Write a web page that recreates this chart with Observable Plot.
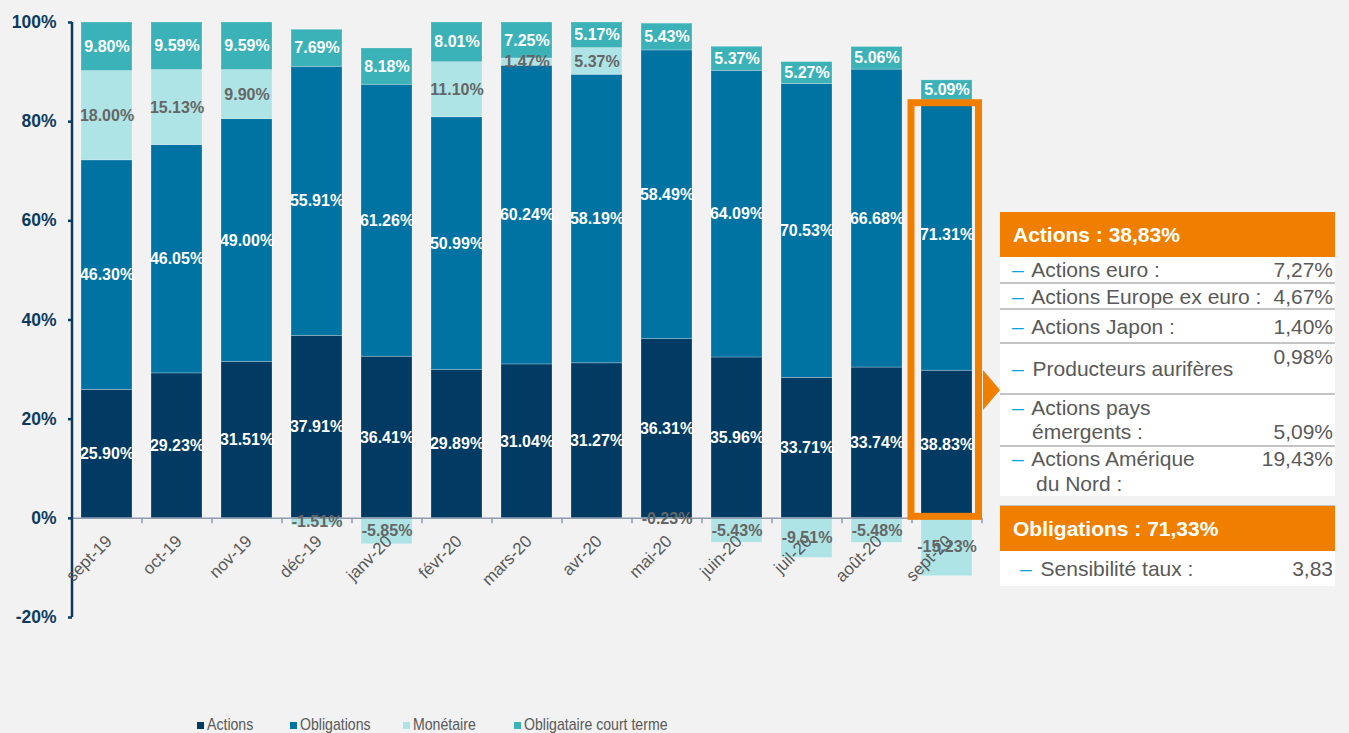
<!DOCTYPE html>
<html><head><meta charset="utf-8">
<script src="https://cdn.jsdelivr.net/npm/d3@7"></script>
<script src="https://cdn.jsdelivr.net/npm/@observablehq/plot@0.6"></script>
<style>
html,body{margin:0;padding:0;background:#f2f2f2;}
body{width:1349px;height:733px;position:relative;overflow:hidden;font-family:"Liberation Sans",Arial,sans-serif;}
#chart{position:absolute;left:0;top:0;}
#panel{position:absolute;left:1000px;top:212px;width:335px;height:380px;}
.hdr{position:absolute;left:0;width:335px;height:45px;background:#f07f00;color:#fff;font-weight:bold;font-size:21px;line-height:45px;padding-left:13px;box-sizing:border-box;}
.white{position:absolute;left:0;width:335px;background:#fff;}
.sep{position:absolute;left:0;width:335px;height:2px;background:#c4c4c4;}
.ln{position:absolute;height:24px;line-height:24px;font-size:21px;color:#595959;white-space:nowrap;}
.dash{color:#00a3e0;margin-right:3px;}
.val{position:absolute;right:2px;height:24px;line-height:24px;font-size:21px;color:#595959;text-align:right;}
#arrow{position:absolute;left:983px;top:370px;width:0;height:0;border-left:17px solid #f07f00;border-top:20px solid transparent;border-bottom:20px solid transparent;}
#legend{position:absolute;left:0;top:712px;width:1000px;height:21px;}
.lg-sq{position:absolute;top:10px;width:7px;height:7px;}
.lg-tx{position:absolute;top:1px;height:24px;line-height:24px;font-family:"Liberation Sans",Arial,sans-serif;font-size:17px;color:#595959;white-space:nowrap;transform:scaleX(0.83);transform-origin:0 50%;}
</style></head>
<body>
<div id="chart"></div>
<div id="arrow"></div>
<div id="panel"></div>
<div id="legend"></div>
<script>
// ---- data ----
const months = ["sept-19","oct-19","nov-19","déc-19","janv-20","févr-20","mars-20","avr-20","mai-20","juin-20","juil-20","août-20","sept-20"];
const seriesNames = ["Actions","Obligations","Monétaire","Obligataire court terme"];
const seriesColors = ["#013b63","#0073a2","#aee4e5","#3bb2b8"];
const actions     = [25.90,29.23,31.51,37.91,36.41,29.89,31.04,31.27,36.31,35.96,33.71,33.74,38.83];
const obligations = [46.30,46.05,49.00,55.91,61.26,50.99,60.24,58.19,58.49,64.09,70.53,66.68,71.31];
const monetaire   = [18.00,15.13,9.90,-1.51,-5.85,11.10,1.47,5.37,-0.23,-5.43,-9.51,-5.48,-15.23];
const courtTerme  = [9.80,9.59,9.59,7.69,8.18,8.01,7.25,5.17,5.43,5.37,5.27,5.06,5.09];
const yTicks = [-20,0,20,40,60,80,100];

const panelActionsTitle = "Actions : 38,83%";
const panelActionsLabels = [["Actions euro :"],["Actions Europe ex euro :"],["Actions Japon :"],["Producteurs aurifères"],["Actions pays","émergents :"],["Actions Amérique","du Nord :"]];
const panelActionsValues = ["7,27%","4,67%","1,40%","0,98%","5,09%","19,43%"];
const panelOblTitle = "Obligations : 71,33%";
const panelOblLabels = ["Sensibilité taux :"];
const panelOblValues = ["3,83"];

// ---- build table (100% stacked, normalised by sum of absolute values, as the original chart) ----
const bySeries = [actions, obligations, monetaire, courtTerme];
const rows = [];
months.forEach((m, i) => {
  const absSum = d3.sum(bySeries, v => Math.abs(v[i]));
  seriesNames.forEach((s, k) => {
    const v = bySeries[k][i];
    rows.push({month: m, series: s, value: v, share: v / absSum * 100});
  });
});
const fmt = v => v.toFixed(2) + "%";
const lastMonth = months[months.length - 1];
const lastRows = rows.filter(r => r.month === lastMonth);
const boxTop = lastRows[0].share + lastRows[1].share;
const half = 35; // half band step in px

const stackOpts = {x: "month", y: "share", z: "series", order: seriesNames};

const plot = Plot.plot({
  width: 1000, height: 700,
  marginLeft: 72, marginRight: 18, marginTop: 22, marginBottom: 83,
  style: {background: "#f2f2f2", fontFamily: "'Liberation Sans', Arial, sans-serif", overflow: "visible"},
  x: {domain: months, paddingInner: 0.27, paddingOuter: 0.135, axis: null},
  y: {domain: [-20, 100], axis: null},
  color: {domain: seriesNames, range: seriesColors},
  marks: [
    Plot.barY(rows, Plot.stackY({...stackOpts, fill: "series", stroke: "#ffffff", strokeOpacity: 0.3, strokeWidth: 0.8})),
    Plot.ruleY([0], {stroke: "#8e9cb0", strokeWidth: 1.5}),
    Plot.ruleX(months, {x: d => d, y1: 0, y2: -1.1, dx: -half, stroke: "#8e9cb0", strokeWidth: 1.5}),
    Plot.ruleX([lastMonth], {x: d => d, y1: 0, y2: -1.1, dx: half, stroke: "#8e9cb0", strokeWidth: 1.5}),
    Plot.ruleX([months[0]], {x: d => d, y1: -20, y2: 100, dx: -half, stroke: "#0d3b5e", strokeWidth: 2.5}),
    Plot.axisY({ticks: yTicks, tickFormat: d => d + "%", label: null, tickSize: 4, tickPadding: 12, fontSize: 17.5, fontWeight: "bold", color: "#0d3b5e", strokeWidth: 2.5}),
    Plot.text(months, {x: d => d, y: 0, text: d => d, rotate: -45, textAnchor: "end", lineAnchor: "bottom", dx: 6, dy: 24, fontSize: 17, fill: "#595959"}),
    Plot.barY([lastMonth], {x: d => d, y1: 0, y2: boxTop, fill: "none", stroke: "#f07f00", strokeWidth: 7, insetLeft: -10, insetRight: -6.5, insetTop: 3.5, insetBottom: 1.5}),
    Plot.text(rows, Plot.stackY({...stackOpts, text: d => d.series === "Monétaire" ? "" : fmt(d.value), fill: "#ffffff", fontWeight: "bold", fontSize: 16})),
    Plot.text(rows, Plot.stackY({...stackOpts, text: d => d.series === "Monétaire" ? fmt(d.value) : "", fill: "#666666", fontWeight: "bold", fontSize: 16}))
  ]
});
document.getElementById("chart").appendChild(plot);

// ---- side panel ----
const panel = document.getElementById("panel");
function el(cls, css, html) {
  const d = document.createElement("div");
  d.className = cls; Object.assign(d.style, css); if (html != null) d.innerHTML = html;
  panel.appendChild(d); return d;
}
const P0 = 212;
el("hdr", {top: "0px"}, panelActionsTitle);
el("white", {top: (257 - P0) + "px", height: (496 - 257) + "px"});
[282, 308, 342, 393, 445].forEach(y => el("sep", {top: (y - P0) + "px"}));
// line centres (page y) for each label line and its value
const labelCentres = [[270],[297],[327],[369],[408,432],[459,484]];
const labelIndent2 = [32,32,32,32,32,36];
const valueCentres = [270,297,327,357,432,459];
panelActionsLabels.forEach((lines, i) => {
  lines.forEach((t, j) => {
    const html = j === 0 ? '<span class="dash">–</span> ' + t : t;
    el("ln", {top: (labelCentres[i][j] - 12 - P0) + "px", left: (j === 0 ? 12 : labelIndent2[i]) + "px"}, html);
  });
  el("val", {top: (valueCentres[i] - 12 - P0) + "px"}, panelActionsValues[i]);
});
el("sep", {top: (505 - P0) + "px", height: "1px"});
el("hdr", {top: (506 - P0) + "px"}, panelOblTitle);
el("white", {top: (551 - P0) + "px", height: "35px"});
el("ln", {top: (569 - 12 - P0) + "px", left: "20px"}, '<span class="dash">–</span> ' + panelOblLabels[0]);
el("val", {top: (569 - 12 - P0) + "px"}, panelOblValues[0]);

// ---- legend ----
const legend = document.getElementById("legend");
const lgLeft = [197, 290, 403, 514];
seriesNames.forEach((s, i) => {
  const sq = document.createElement("div");
  sq.className = "lg-sq"; sq.style.left = lgLeft[i] + "px"; sq.style.background = seriesColors[i];
  legend.appendChild(sq);
  const tx = document.createElement("div");
  tx.className = "lg-tx"; tx.style.left = (lgLeft[i] + 10) + "px"; tx.textContent = s;
  legend.appendChild(tx);
});
</script>
</body></html>
